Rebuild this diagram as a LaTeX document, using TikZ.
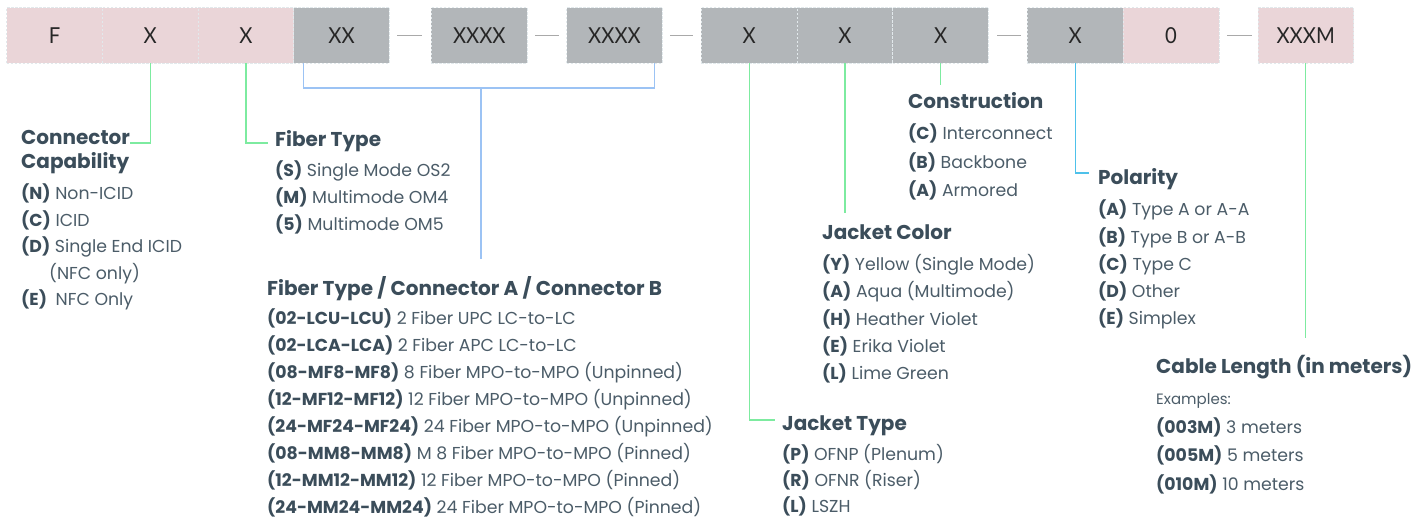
\documentclass[tikz,border=0pt]{standalone}
\usepackage{fontspec}
\setmainfont{Poppins}
\newfontfamily\boxfont[FakeStretch=0.92]{Lato}
\usetikzlibrary{positioning}
\definecolor{pinkcell}{HTML}{EAD5D8}
\definecolor{greycell}{HTML}{B2B6B9}
\definecolor{celledge}{HTML}{E2E9EC}
\definecolor{slate}{HTML}{3B4D5A}
\definecolor{slatelt}{HTML}{4B5C68}
\definecolor{mint}{HTML}{7DEBA0}
\definecolor{sky}{HTML}{9CC3F4}
\definecolor{aqua}{HTML}{4EC1EA}
\definecolor{hyphen}{HTML}{A9A9A9}
\newcommand{\hd}[1]{{\fontsize{20}{24}\selectfont\bfseries\color{slate}#1}}
\newcommand{\kw}[1]{{\bfseries\color{slate}#1}}

\begin{document}
\begin{tikzpicture}[x=1pt,y=-1pt,node distance=0pt,
  cell/.style={minimum width=95.7pt,minimum height=55.5pt,inner sep=0pt,outer sep=0pt,
    draw=celledge,dash pattern=on 2.5pt off 1.5pt,line width=0.7pt,text=black!85,font=\boxfont\fontsize{22}{24}\selectfont},
  pinkc/.style={cell,fill=pinkcell},
  greyc/.style={cell,fill=greycell},
  desc/.style={anchor=north west,align=left,inner sep=0pt,text=slatelt,font=\fontsize{17.3}{#1}\selectfont},
  desc/.default=26.5,
  link/.style={line width=1.2pt,draw=#1},
  hyph/.style={line width=1.2pt,draw=hyphen}]
\useasboundingbox (0,0) rectangle (1422,518);

% part number cells
\node[pinkc]							(f_brand)	at (54.5,35.5)					{F};
\node[pinkc]							(f_cap)		[right=of f_brand]				{X};
\node[pinkc]							(f_fib)		[right=of f_cap]				{X};
\node[greyc]							(f_cnt)		[right=of f_fib]				{XX};
\node[greyc]							(f_ca)		[right=42pt of f_cnt]			{XXXX};
\node[greyc]							(f_cb)		[right=39.5pt of f_ca]			{XXXX};
\node[greyc]							(f_jt)		[right=39pt of f_cb]			{X};
\node[greyc]							(f_jc)		[right=of f_jt]					{X};
\node[greyc]							(f_con)		[right=of f_jc]					{X};
\node[greyc]							(f_pol)		[right=39pt of f_con]			{X};
\node[pinkc]							(f_zero)	[right=of f_pol]				{0};
\node[pinkc]							(f_len)		[right=39pt of f_zero]			{XXXM};

\draw[hyph] ([xshift=8pt]f_cnt.east) -- ([xshift=-9pt]f_ca.west);
\draw[hyph] ([xshift=8pt]f_ca.east) -- ([xshift=-8pt]f_cb.west);
\draw[hyph] ([xshift=8pt]f_cb.east) -- ([xshift=-8pt]f_jt.west);
\draw[hyph] ([xshift=9pt]f_con.east) -- ([xshift=-6pt]f_pol.west);
\draw[hyph] ([xshift=8pt]f_zero.east) -- ([xshift=-6pt]f_len.west);

% descriptions
\node[desc=26.5]						(d_cap)		at (21,130.5)
  {\hd{Connector}\\[-2.5pt]\hd{Capability}\\[4.5pt]
   \kw{(N)} Non-ICID\\
   \kw{(C)} ICID\\
   \kw{(D)} Single End ICID\\
   \hspace*{28pt}(NFC only)\\
   \kw{(E)}\enspace NFC Only};
\node[desc=27]							(d_fib)		at (275,130.5)
  {\hd{Fiber Type}\\[3pt]
   \kw{(S)} Single Mode OS2\\
   \kw{(M)} Multimode OM4\\
   \kw{(5)} Multimode OM5};
\node[desc=27]							(d_ftc)		at (267,276.5)
  {\hd{Fiber Type / Connector A / Connector B}\\[2pt]
   \kw{(02-LCU-LCU)} 2 Fiber UPC LC-to-LC\\
   \kw{(02-LCA-LCA)} 2 Fiber APC LC-to-LC\\
   \kw{(08-MF8-MF8)} 8 Fiber MPO-to-MPO (Unpinned)\\
   \kw{(12-MF12-MF12)} 12 Fiber MPO-to-MPO (Unpinned)\\
   \kw{(24-MF24-MF24)} 24 Fiber MPO-to-MPO (Unpinned)\\
   \kw{(08-MM8-MM8)} M 8 Fiber MPO-to-MPO (Pinned)\\
   \kw{(12-MM12-MM12)} 12 Fiber MPO-to-MPO (Pinned)\\
   \kw{(24-MM24-MM24)} 24 Fiber MPO-to-MPO (Pinned)};
\node[desc=28.5]						(d_con)		at (908,92.5)
  {\hd{Construction}\\[2.5pt]
   \kw{(C)} Interconnect\\
   \kw{(B)} Backbone\\
   \kw{(A)} Armored};
\node[desc=27.3]						(d_jc)		at (822,224.5)
  {\hd{Jacket Color}\\[3.7pt]
   \kw{(Y)} Yellow (Single Mode)\\
   \kw{(A)} Aqua (Multimode)\\
   \kw{(H)} Heather Violet\\
   \kw{(E)} Erika Violet\\
   \kw{(L)} Lime Green};
\node[desc=26]							(d_jt)		at (782,415.5)
  {\hd{Jacket Type}\\[4pt]
   \kw{(P)} OFNP (Plenum)\\
   \kw{(R)} OFNR (Riser)\\
   \kw{(L)} LSZH};
\node[desc=27.3]						(d_pol)		at (1098,168.5)
  {\hd{Polarity}\\[3.7pt]
   \kw{(A)} Type A or A-A\\
   \kw{(B)} Type B or A-B\\
   \kw{(C)} Type C\\
   \kw{(D)} Other\\
   \kw{(E)} Simplex};
\node[desc=28.5]						(d_len)		at (1156,355.5)
  {\hd{Cable Length (in meters)}\\[2.5pt]
   {\fontsize{15}{17}\selectfont Examples:}\\
   \kw{(003M)} 3 meters\\
   \kw{(005M)} 5 meters\\
   \kw{(010M)} 10 meters};

% leader lines
\coordinate (e_cap) at (130,143);
\coordinate (e_fib) at (268,143);
\coordinate (k_mid) at (481,88);
\coordinate (e_ftc) at (481,259);
\coordinate (e_jt)  at (775,420);
\coordinate (e_jc)  at (f_jc.south |- 0,213);
\coordinate (e_con) at (f_con.south |- 0,85);
\coordinate (e_pol) at (1089,173);
\coordinate (e_len) at (f_len.south |- 0,338);

\draw[link=mint]	(f_cap.south)	|- (e_cap);
\draw[link=mint]	(f_fib.south)	|- (e_fib);
\draw[link=sky]		([xshift=10pt]f_cnt.south west) |- (k_mid) -| ([xshift=-8pt]f_cb.south east);
\draw[link=sky]		(k_mid)			-- (e_ftc);
\draw[link=mint]	(f_jt.south)	|- (e_jt);
\draw[link=mint]	(f_jc.south)	-- (e_jc);
\draw[link=mint]	(f_con.south)	-- (e_con);
\draw[link=aqua]	(f_pol.south)	|- (e_pol);
\draw[link=mint]	(f_len.south)	-- (e_len);
\end{tikzpicture}
\end{document}
